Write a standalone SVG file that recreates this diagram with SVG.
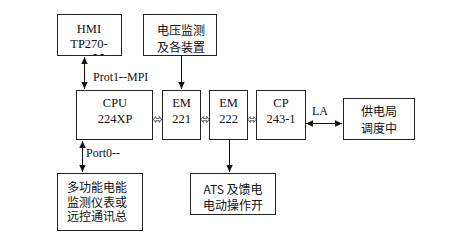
<svg xmlns="http://www.w3.org/2000/svg" width="450" height="241" viewBox="0 0 450 241">
<defs>
<marker id="ah" markerWidth="8" markerHeight="8" refX="7" refY="4" orient="auto-start-reverse" markerUnits="userSpaceOnUse">
<path d="M0,0.8 L7,4 L0,7.2 Z" fill="#111"/>
</marker>
<path id="dbl" d="M-4,0 L-1.8,-3 L-1.8,-1.2 L1.8,-1.2 L1.8,-3 L4,0 L1.8,3 L1.8,1.2 L-1.8,1.2 L-1.8,3 Z" fill="#fff" stroke="#333" stroke-width="0.8"/>
</defs>
<style>
.box{fill:#fff;stroke:#222;stroke-width:1}
.lat{font-family:"Liberation Serif","Times New Roman",serif;font-size:12.5px;fill:#111;text-anchor:middle}
.lbl{font-family:"Liberation Serif","Times New Roman",serif;font-size:12px;fill:#111}
.cjk{font-family:"Noto Sans CJK SC","Liberation Sans",sans-serif;font-size:12px;fill:#111;text-anchor:middle}
.ln{stroke:#111;stroke-width:1;fill:none}
</style>
<rect width="450" height="241" fill="#fff"/>
<g id="hmi">
<rect class="box" x="57.5" y="14.5" width="64" height="41"/>
<text class="lat" x="89" y="33">HMI</text>
<text class="lat" x="89" y="48">TP270-</text>
<text class="lbl" x="93" y="57.5" font-size="7">- -</text>
</g>
<g id="voltage">
<rect class="box" x="143.5" y="14.5" width="73" height="41"/>
<text class="cjk" x="181" y="35">电压监测</text>
<text class="cjk" x="181" y="52">及各装置</text>
</g>
<g id="cpu">
<rect class="box" x="76.5" y="90.5" width="76" height="49"/>
<text class="lat" x="115" y="107">CPU</text>
<text class="lat" x="115" y="123">224XP</text>
</g>
<g id="em221">
<rect class="box" x="162.5" y="90.5" width="38" height="49"/>
<text class="lat" x="181.5" y="107">EM</text>
<text class="lat" x="181.5" y="123">221</text>
</g>
<g id="em222">
<rect class="box" x="209.5" y="90.5" width="38" height="49"/>
<text class="lat" x="228.5" y="107">EM</text>
<text class="lat" x="228.5" y="123">222</text>
</g>
<g id="cp">
<rect class="box" x="256.5" y="90.5" width="49" height="49"/>
<text class="lat" x="281" y="107">CP</text>
<text class="lat" x="281" y="123">243-1</text>
</g>
<g id="bureau">
<rect class="box" x="343.5" y="98.5" width="71" height="41"/>
<text class="cjk" x="379" y="116">供电局</text>
<text class="cjk" x="379" y="133">调度中</text>
</g>
<g id="meter">
<rect class="box" x="57.5" y="173.5" width="85" height="57"/>
<text class="cjk" x="97" y="192">多功能电能</text>
<text class="cjk" x="97" y="206.5">监测仪表或</text>
<text class="cjk" x="97" y="221">远控通讯总</text>
</g>
<g id="ats">
<rect class="box" x="190.5" y="173.5" width="85" height="41"/>
<text class="cjk" x="233" y="194">ATS 及馈电</text>
<text class="cjk" x="233" y="210">电动操作开</text>
</g>
<g id="connectors">
<line class="ln" x1="84.5" y1="57" x2="84.5" y2="89" marker-start="url(#ah)" marker-end="url(#ah)"/>
<line class="ln" x1="181.5" y1="56" x2="181.5" y2="89" marker-end="url(#ah)"/>
<line class="ln" x1="82.5" y1="141" x2="82.5" y2="172" marker-start="url(#ah)" marker-end="url(#ah)"/>
<line class="ln" x1="229.5" y1="140" x2="229.5" y2="172" marker-end="url(#ah)"/>
<line class="ln" x1="306" y1="123.5" x2="342" y2="123.5" marker-start="url(#ah)" marker-end="url(#ah)"/>
<use href="#dbl" x="157.5" y="119.5"/>
<use href="#dbl" x="205" y="119.5"/>
<use href="#dbl" x="252" y="119.5"/>
<text class="lbl" x="93" y="81">Prot1--MPI</text>
<text class="lbl" x="86" y="157">Port0--</text>
<text class="lbl" x="312" y="115">LA</text>
</g>
</svg>
